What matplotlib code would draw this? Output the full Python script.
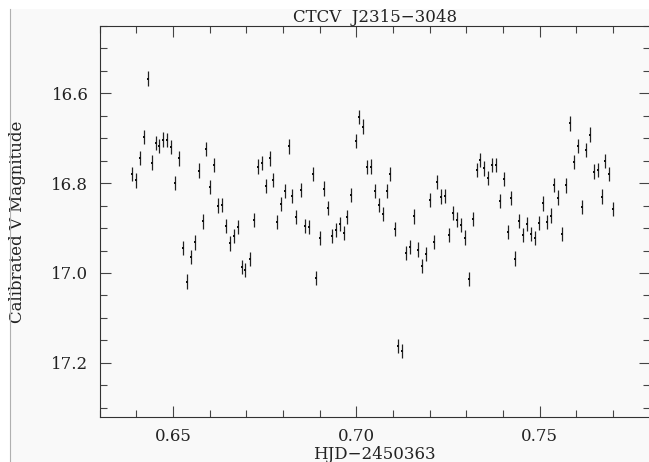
import matplotlib
matplotlib.use("Agg")
import matplotlib.pyplot as plt
from matplotlib.ticker import MultipleLocator, FormatStrFormatter
from matplotlib.patches import Rectangle
from matplotlib.lines import Line2D

# Light curve of CTCV J2315-3048: heliocentric Julian date offset and V magnitude
hjd = [
    0.6389, 0.6400, 0.6410, 0.6421, 0.6431, 0.6442, 0.6453, 0.6463, 0.6474, 0.6484,
    0.6495, 0.6506, 0.6517, 0.6528, 0.6538, 0.6549, 0.6560, 0.6570, 0.6581, 0.6591,
    0.6602, 0.6613, 0.6624, 0.6634, 0.6645, 0.6656, 0.6666, 0.6677, 0.6688, 0.6698,
    0.6709, 0.6720, 0.6731, 0.6742, 0.6753, 0.6764, 0.6774, 0.6784, 0.6795, 0.6805,
    0.6816, 0.6826, 0.6837, 0.6848, 0.6859, 0.6870, 0.6881, 0.6891, 0.6902, 0.6913,
    0.6923, 0.6934, 0.6945, 0.6955, 0.6966, 0.6976, 0.6987, 0.6998, 0.7008, 0.7019,
    0.7029, 0.7040, 0.7051, 0.7061, 0.7072, 0.7083, 0.7093, 0.7105, 0.7114, 0.7125,
    0.7135, 0.7146, 0.7157, 0.7168, 0.7178, 0.7189, 0.7200, 0.7211, 0.7221, 0.7232,
    0.7242, 0.7253, 0.7264, 0.7275, 0.7285, 0.7296, 0.7306, 0.7317, 0.7328, 0.7338,
    0.7349, 0.7360, 0.7371, 0.7381, 0.7392, 0.7402, 0.7413, 0.7423, 0.7434, 0.7444,
    0.7455, 0.7466, 0.7476, 0.7487, 0.7498, 0.7508, 0.7519, 0.7530, 0.7540, 0.7551,
    0.7562, 0.7573, 0.7584, 0.7594, 0.7605, 0.7615, 0.7626, 0.7636, 0.7647, 0.7658,
    0.7669, 0.7679, 0.7690, 0.7701,
]
vmag = [
    16.779, 16.794, 16.744, 16.697, 16.567, 16.754, 16.710, 16.717, 16.703, 16.704,
    16.720, 16.799, 16.745, 16.945, 17.019, 16.964, 16.932, 16.772, 16.885, 16.724,
    16.808, 16.759, 16.850, 16.848, 16.895, 16.934, 16.917, 16.898, 16.986, 16.993,
    16.969, 16.882, 16.763, 16.755, 16.806, 16.745, 16.793, 16.886, 16.846, 16.817,
    16.718, 16.829, 16.876, 16.815, 16.896, 16.898, 16.779, 17.011, 16.922, 16.812,
    16.855, 16.917, 16.904, 16.891, 16.911, 16.876, 16.827, 16.706, 16.653, 16.674,
    16.764, 16.763, 16.818, 16.848, 16.868, 16.818, 16.779, 16.902, 17.163, 17.174,
    16.955, 16.942, 16.874, 16.948, 16.984, 16.958, 16.838, 16.931, 16.797, 16.830,
    16.828, 16.915, 16.867, 16.881, 16.893, 16.921, 17.014, 16.880, 16.770, 16.749,
    16.767, 16.789, 16.760, 16.759, 16.839, 16.791, 16.909, 16.833, 16.968, 16.884,
    16.916, 16.891, 16.913, 16.922, 16.889, 16.845, 16.887, 16.872, 16.804, 16.832,
    16.913, 16.805, 16.667, 16.753, 16.717, 16.853, 16.726, 16.692, 16.774, 16.771,
    16.830, 16.751, 16.779, 16.858,
]
vmag_err = 0.016

title_text = "CTCV  J2315\u22123048"
x_label = "HJD\u22122450363"
y_label = "Calibrated V Magnitude"

W, H = 649, 462
fig = plt.figure(figsize=(W / 100, H / 100), dpi=100, facecolor="white")

# page panel with a thin frame line on the left
fig.add_artist(Rectangle((9.5 / W, 0), 1 - 9.5 / W, 1 - 9 / H,
                         transform=fig.transFigure, facecolor="#f9f9f9",
                         edgecolor="none", zorder=-10))
fig.add_artist(Line2D([9.5 / W, 9.5 / W], [0, 1 - 9 / H],
                      transform=fig.transFigure, color="#b0b0b0", lw=0.8))

font = {"family": "DejaVu Serif", "size": 12, "color": "#222222"}

ax = fig.add_axes([99.5 / W, 1 - 416.7 / H, 550.2 / W, 390.7 / H])
ax.set_facecolor("none")

ax.errorbar(hjd, vmag, yerr=vmag_err, fmt="s", ms=1.6, mew=0,
            color="#111111", ecolor="#222222", elinewidth=0.9, capsize=0)

ax.set_xlim(0.63, 0.78)
ax.set_ylim(17.32, 16.45)

ax.xaxis.set_major_locator(MultipleLocator(0.05))
ax.xaxis.set_minor_locator(MultipleLocator(0.01))
ax.yaxis.set_major_locator(MultipleLocator(0.2))
ax.yaxis.set_minor_locator(MultipleLocator(0.05))
ax.xaxis.set_major_formatter(FormatStrFormatter("%.2f"))
ax.yaxis.set_major_formatter(FormatStrFormatter("%.1f"))

ax.tick_params(which="both", direction="in", top=True, right=True,
               color="#444444", width=0.8)
ax.tick_params(which="major", length=8)
ax.tick_params(which="minor", length=5)
ax.tick_params(axis="x", which="major", pad=8)
ax.tick_params(axis="y", which="major", pad=8)
for lab in ax.get_xticklabels() + ax.get_yticklabels():
    lab.set_fontfamily("DejaVu Serif")
    lab.set_fontsize(12)
    lab.set_color("#222222")

for sp in ax.spines.values():
    sp.set_color("#333333")
    sp.set_linewidth(0.8)

ax.set_title(title_text, fontdict=font, pad=3)
ax.set_xlabel(x_label, fontdict=font)
ax.set_ylabel(y_label, fontdict=font)
ax.xaxis.set_label_coords(0.5, -0.076)
ax.yaxis.set_label_coords(-0.134, 0.5)

fig.savefig("out.png", dpi=100, facecolor="white")
